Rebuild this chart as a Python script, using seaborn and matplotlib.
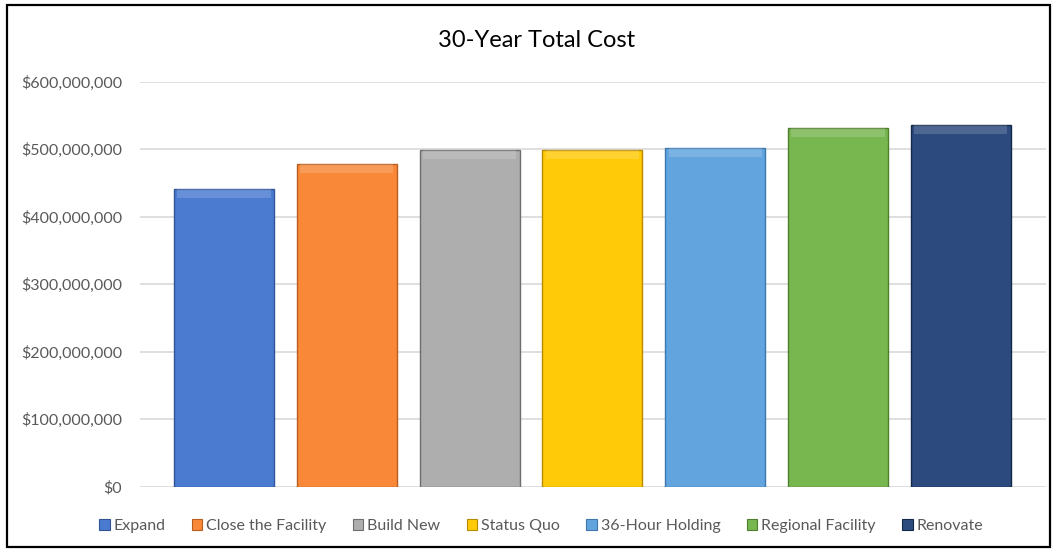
import matplotlib
matplotlib.use("Agg")
import matplotlib.pyplot as plt
import seaborn as sns
import pandas as pd
from matplotlib.patches import Rectangle, Patch
from matplotlib.ticker import FuncFormatter

# values
options = ["Expand", "Close the Facility", "Build New", "Status Quo",
           "36-Hour Holding", "Regional Facility", "Renovate"]
total_cost = [440_500_000, 477_500_000, 499_200_000, 499_000_000,
              501_500_000, 531_800_000, 535_300_000]
bar_colors = ["#4A7BD1", "#F98839", "#AEAEAE", "#FFCA08",
              "#61A4DE", "#78B64F", "#2C4A7E"]
edge_colors = ["#2F5597", "#B85E1F", "#6E6E6E", "#B88A00",
               "#3C78AE", "#4E7F2E", "#14284A"]
y_ticks = [0, 100_000_000, 200_000_000, 300_000_000,
           400_000_000, 500_000_000, 600_000_000]

df = pd.DataFrame({"option": options, "cost": total_cost})

sns.set_style("white")
plt.rcParams["font.family"] = ["Lato", "DejaVu Sans"]

fig = plt.figure(figsize=(10.57, 5.52), dpi=100)
ax = fig.add_axes([0.1325, 0.1183, 0.8571, 0.7337])

sns.barplot(data=df, x="option", y="cost", hue="option", palette=bar_colors,
            width=0.814, legend=False, ax=ax, saturation=1)

# darker edge to hint at the bevel look
for patch, ec in zip(ax.patches, edge_colors):
    patch.set_edgecolor(ec)
    patch.set_linewidth(1.0)

# soft lighter band at the top of each bar (bevel highlight)
band = 13_000_000
for i, v in enumerate(total_cost):
    ax.bar(i, band, bottom=v - band, width=0.76, color="white",
           alpha=0.16, linewidth=0, zorder=3)

ax.set_xlim(-0.684, 6.694)
ax.set_ylim(0, 600_000_000)
ax.set_yticks(y_ticks)
ax.yaxis.set_major_formatter(FuncFormatter(lambda v, p: f"${v:,.0f}"))
ax.set_xticks([])
ax.set_xlabel("")
ax.set_ylabel("")
ax.grid(axis="y", color="#D9D9D9", linewidth=1.2)
ax.set_axisbelow(True)
for s in ax.spines.values():
    s.set_visible(False)
ax.tick_params(axis="y", length=0, pad=13, labelsize=11.5, labelcolor="#595959")

fig.text(0.508, 0.914, "30-Year Total Cost", ha="center", va="baseline",
         fontsize=17, color="#000000")

handles = [Patch(facecolor=c, edgecolor=e, linewidth=0.8)
           for c, e in zip(bar_colors, edge_colors)]
fig.legend(handles, options, loc="center", bbox_to_anchor=(0.512, 0.047),
           ncol=7, frameon=False, fontsize=11.5, labelcolor="#595959",
           handlelength=0.65, handleheight=0.65, handletextpad=0.25,
           columnspacing=1.65)

# chart border
fig.patches.append(Rectangle((7 / 1057, 5 / 552), 1043 / 1057, 542 / 552,
                             transform=fig.transFigure, fill=False,
                             edgecolor="black", linewidth=1.6))

fig.savefig("out.png", dpi=100)
